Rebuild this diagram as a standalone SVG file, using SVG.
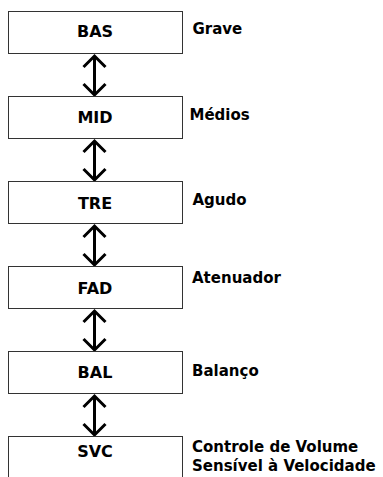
<svg xmlns="http://www.w3.org/2000/svg" width="383" height="477" viewBox="0 0 383 477">
<style>
.box{fill:#fff;stroke:#333;stroke-width:1}
.bl{font-family:"DejaVu Sans",sans-serif;font-weight:bold;font-size:16px;fill:#000;text-anchor:middle}
.lb{font-family:"DejaVu Sans",sans-serif;font-weight:bold;font-size:15px;fill:#000}
.arr{fill:none;stroke:#000;stroke-width:3;stroke-linejoin:miter}
</style>
<rect width="383" height="477" fill="#fff"/>
<g id="connectors">
<path class="arr" d="M94.5,57V94M83.5,67L94.5,56L105.5,67M83.5,84L94.5,95L105.5,84"/>
<path class="arr" d="M94.5,142V179M83.5,152L94.5,141L105.5,152M83.5,169L94.5,180L105.5,169"/>
<path class="arr" d="M94.5,227V264M83.5,237L94.5,226L105.5,237M83.5,254L94.5,265L105.5,254"/>
<path class="arr" d="M94.5,312V349M83.5,322L94.5,311L105.5,322M83.5,339L94.5,350L105.5,339"/>
<path class="arr" d="M94.5,397V434M83.5,407L94.5,396L105.5,407M83.5,424L94.5,435L105.5,424"/>
</g>
<g id="BAS"><rect class="box" x="8.5" y="11.5" width="174" height="42"/><text class="bl" x="95" y="36.5">BAS</text></g>
<g id="MID"><rect class="box" x="8.5" y="96.5" width="174" height="42"/><text class="bl" x="95" y="122.5">MID</text></g>
<g id="TRE"><rect class="box" x="8.5" y="181.5" width="174" height="42"/><text class="bl" x="95" y="209">TRE</text></g>
<g id="FAD"><rect class="box" x="8.5" y="266.5" width="174" height="42"/><text class="bl" x="95" y="294">FAD</text></g>
<g id="BAL"><rect class="box" x="8.5" y="351.5" width="174" height="42"/><text class="bl" x="95" y="378">BAL</text></g>
<g id="SVC"><rect class="box" x="8.5" y="436.5" width="174" height="50"/><text class="bl" x="95" y="457">SVC</text></g>
<g id="labels">
<text class="lb" x="192.5" y="33.5">Grave</text>
<text class="lb" x="189.5" y="120">Médios</text>
<text class="lb" x="192.5" y="205">Agudo</text>
<text class="lb" x="192" y="283">Atenuador</text>
<text class="lb" x="192" y="376">Balanço</text>
<text class="lb" x="192" y="452">Controle de Volume</text>
<text class="lb" x="192" y="470.5">Sensível à Velocidade</text>
</g>
</svg>
